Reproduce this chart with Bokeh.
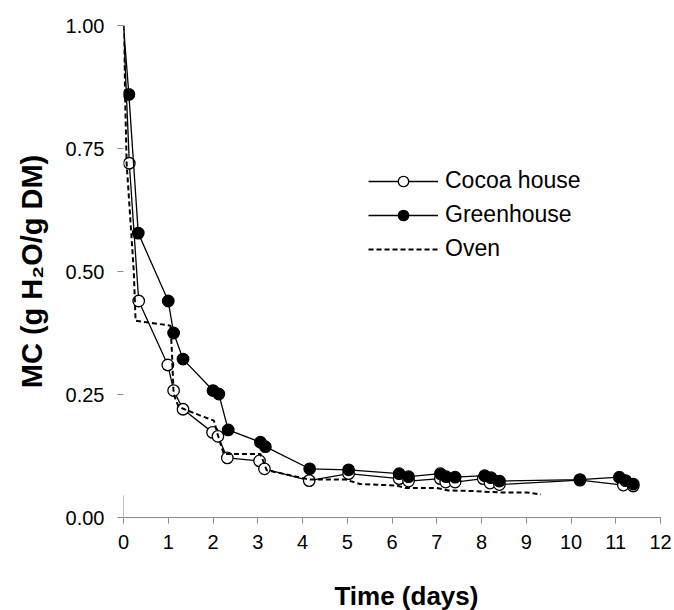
from bokeh.plotting import figure
from bokeh.models import FixedTicker, PrintfTickFormatter, Legend, LegendItem, ColumnDataSource
from bokeh.embed import file_html
from bokeh.resources import INLINE

# ---- data ----
cocoa_t = [0, 0.13, 0.34, 0.99, 1.12, 1.33, 1.99, 2.11, 2.32, 3.04, 3.15, 4.15, 5.03,
           6.16, 6.37, 7.08, 7.20, 7.41, 8.04, 8.19, 8.40, 10.20, 11.17, 11.39]
cocoa_mc = [1.00, 0.72, 0.44, 0.31, 0.258, 0.22, 0.173, 0.165, 0.121, 0.115, 0.099, 0.075, 0.089,
            0.079, 0.074, 0.079, 0.072, 0.072, 0.079, 0.070, 0.067, 0.076, 0.066, 0.064]

green_t = [0, 0.12, 0.33, 1.00, 1.12, 1.33, 2.00, 2.13, 2.34, 3.06, 3.17, 4.16, 5.03,
           6.16, 6.37, 7.08, 7.21, 7.41, 8.07, 8.21, 8.40, 10.20, 11.08, 11.22, 11.39]
green_mc = [1.00, 0.86, 0.578, 0.44, 0.375, 0.322, 0.258, 0.251, 0.178, 0.153, 0.144, 0.099, 0.097,
            0.089, 0.083, 0.089, 0.083, 0.082, 0.085, 0.081, 0.074, 0.077, 0.082, 0.075, 0.068]

oven_t = [0, 0.07, 0.23, 0.27, 1.05, 1.08, 1.12, 1.23, 1.72, 2.02, 2.10, 2.24, 3.06, 3.20,
          4.17, 4.96, 5.29, 6.10, 6.30, 7.00, 7.26, 7.75, 8.40, 9.00, 9.33]
oven_mc = [1.00, 0.72, 0.50, 0.40, 0.39, 0.34, 0.251, 0.225, 0.207, 0.197, 0.17, 0.129, 0.129, 0.096,
           0.077, 0.077, 0.068, 0.065, 0.060, 0.060, 0.055, 0.054, 0.051, 0.051, 0.047]

x_ticks = list(range(0, 13))
y_ticks = [0.0, 0.25, 0.50, 0.75, 1.00]
AXIS_STUB_TOP = 0.045

FONT = "Liberation Sans"
GRAY = "#8c8c8c"

p = figure(frame_width=537, frame_height=492, x_range=(0, 12), y_range=(0, 1.0),
           min_border_left=123, min_border_right=12, min_border_top=25, min_border_bottom=80,
           output_backend="svg", toolbar_location=None)
p.xgrid.visible = False
p.ygrid.visible = False
p.outline_line_color = None
p.background_fill_color = "white"
p.border_fill_color = "white"

# x axis
xa = p.xaxis[0]
xa.ticker = FixedTicker(ticks=x_ticks)
xa.axis_line_color = GRAY
xa.major_tick_line_color = GRAY
xa.major_tick_out = 6
xa.major_tick_in = 0
xa.minor_tick_line_color = None
xa.major_label_text_font = FONT
xa.major_label_text_font_size = "20px"
xa.major_label_text_color = "black"
xa.major_label_standoff = 11
xa.axis_label = "\u00a0\u00a0\u00a0\u00a0Time (days)"
xa.axis_label_text_font = FONT
xa.axis_label_text_font_size = "26px"
xa.axis_label_text_font_style = "bold"
xa.axis_label_text_color = "black"
xa.axis_label_standoff = 29

# y axis
ya = p.yaxis[0]
ya.ticker = FixedTicker(ticks=y_ticks)
ya.formatter = PrintfTickFormatter(format="%.2f")
ya.axis_line_color = None
ya.major_tick_line_color = GRAY
ya.major_tick_out = 6
ya.major_tick_in = 0
ya.minor_tick_line_color = None
ya.major_label_text_font = FONT
ya.major_label_text_font_size = "20px"
ya.major_label_text_color = "black"
ya.major_label_standoff = 13
ya.axis_label = "MC (g H\u2082O/g DM)"
ya.axis_label_text_font = FONT
ya.axis_label_text_font_size = "29px"
ya.axis_label_text_font_style = "bold"
ya.axis_label_text_color = "black"
ya.axis_label_standoff = 15

# small stub of the vertical axis line near the origin
p.segment(x0=[0], y0=[0], x1=[0], y1=[AXIS_STUB_TOP], line_color=GRAY, line_width=1)

cocoa_src = ColumnDataSource(dict(t=cocoa_t, mc=cocoa_mc))
cocoa_mk = ColumnDataSource(dict(t=cocoa_t[1:], mc=cocoa_mc[1:]))
green_src = ColumnDataSource(dict(t=green_t, mc=green_mc))
green_mk = ColumnDataSource(dict(t=green_t[1:], mc=green_mc[1:]))
oven_src = ColumnDataSource(dict(t=oven_t, mc=oven_mc))

c_line = p.line("t", "mc", source=cocoa_src, line_color="black", line_width=1.3)
c_pts = p.scatter("t", "mc", source=cocoa_mk, marker="circle", size=11.5,
                  fill_color="white", line_color="black", line_width=1.3)
g_line = p.line("t", "mc", source=green_src, line_color="black", line_width=1.3)
g_pts = p.scatter("t", "mc", source=green_mk, marker="circle", size=11.5,
                  fill_color="black", line_color="black", line_width=1.3)
o_line = p.line("t", "mc", source=oven_src, line_color="black", line_width=2,
                line_dash="5 3")

legend = Legend(items=[
    LegendItem(label="Cocoa house", renderers=[c_line, c_pts]),
    LegendItem(label="Greenhouse", renderers=[g_line, g_pts]),
    LegendItem(label="Oven", renderers=[o_line]),
], location=(245, 255))
legend.border_line_color = None
legend.background_fill_alpha = 0
legend.padding = 0
legend.margin = 0
legend.glyph_width = 70
legend.glyph_height = 26
legend.label_height = 26
legend.spacing = 7
legend.label_standoff = 7
legend.label_text_font = FONT
legend.label_text_font_size = "23px"
legend.label_text_color = "black"
p.add_layout(legend, "center")

open("out.html", "w").write(file_html(p, INLINE))
